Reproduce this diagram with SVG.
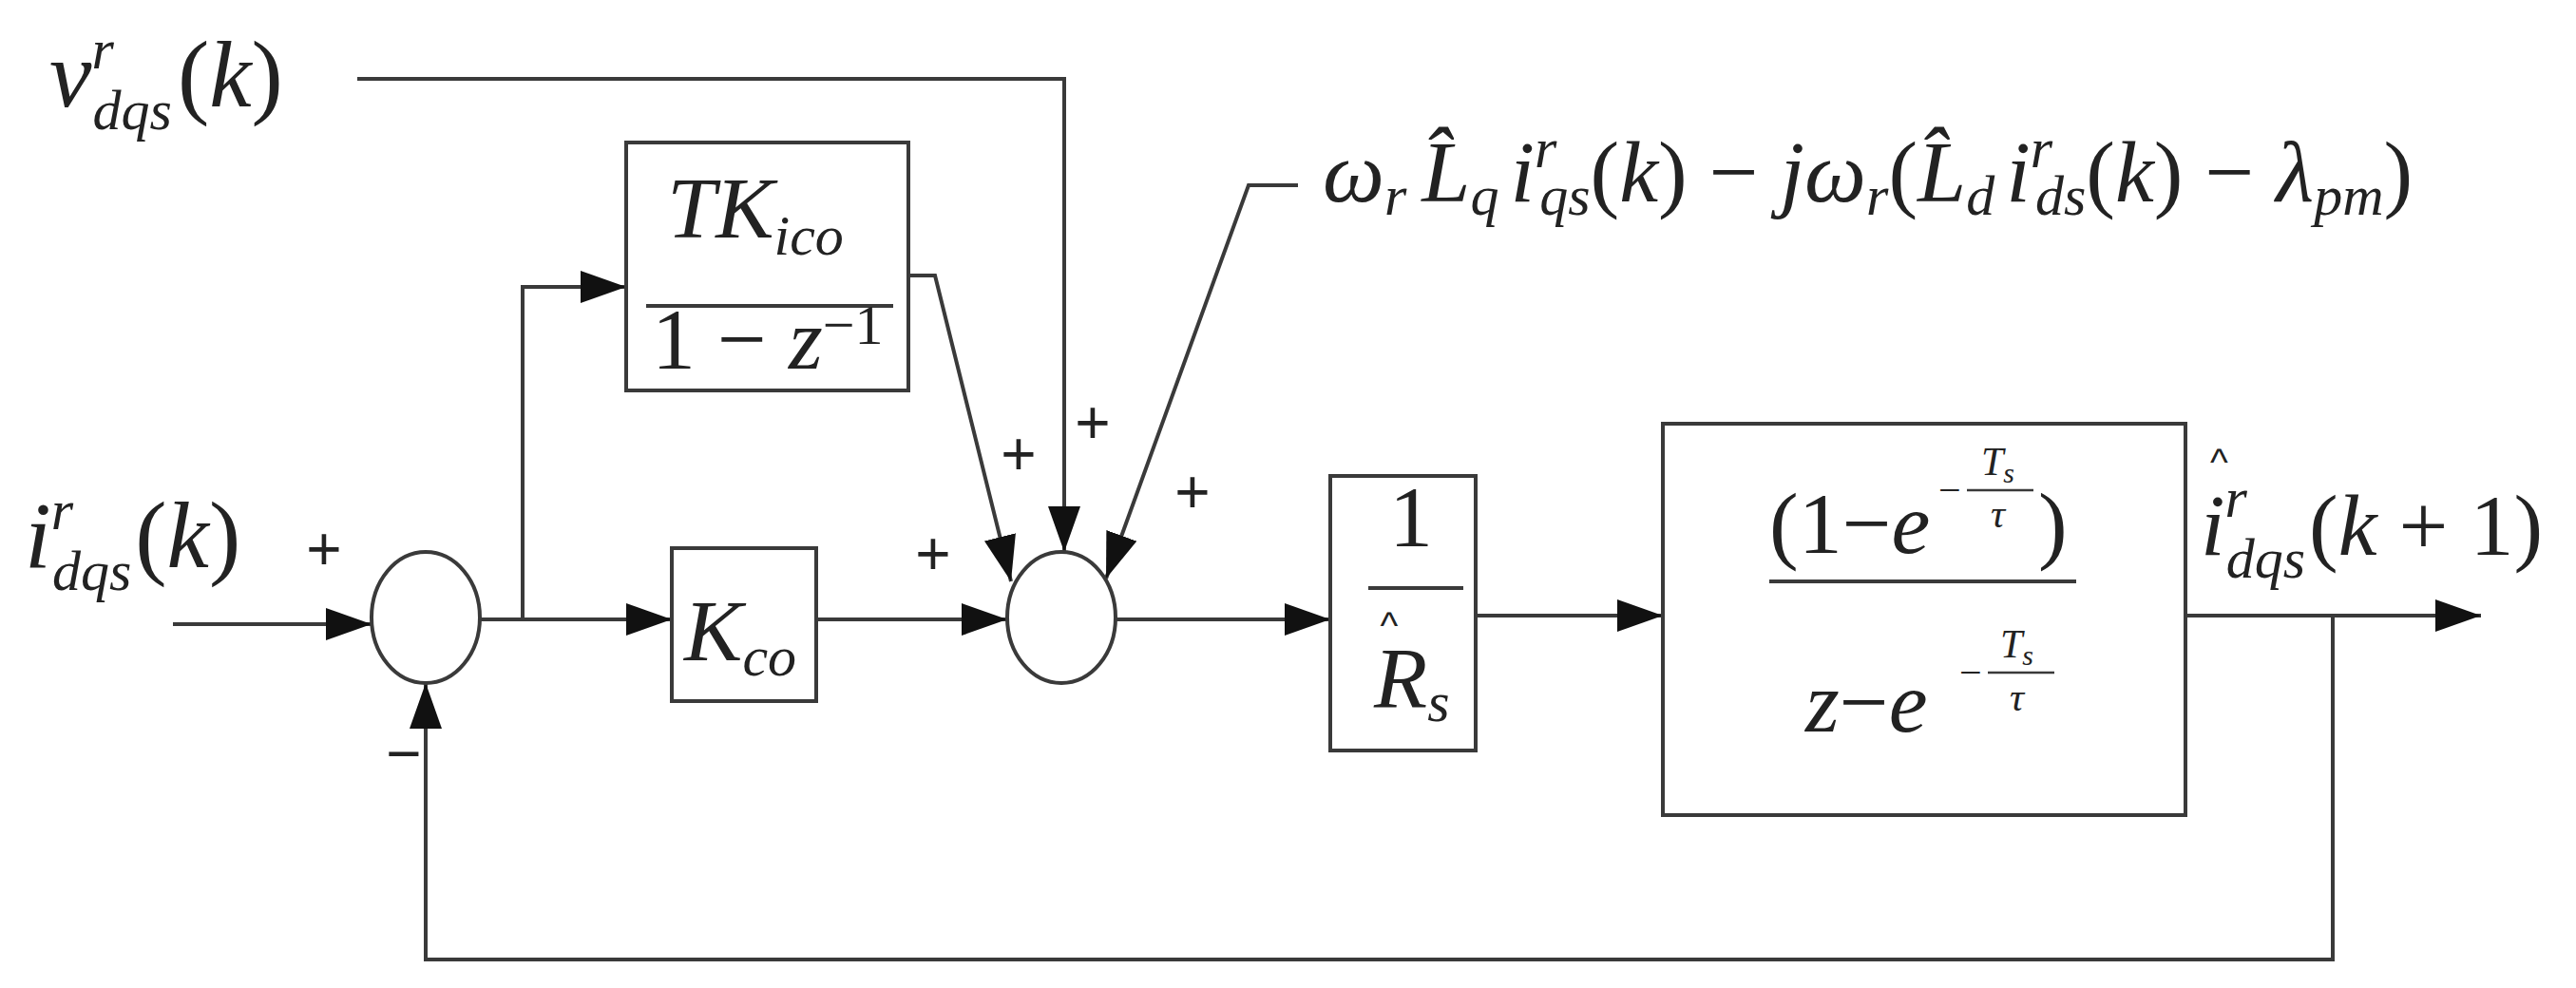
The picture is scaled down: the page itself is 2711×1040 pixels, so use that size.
<svg xmlns="http://www.w3.org/2000/svg" width="2711" height="1040" viewBox="0 0 2711 1040">
<style>
.ln{fill:none;stroke:#3a3a3a;stroke-width:4}
.bx{fill:#fff;stroke:#3a3a3a;stroke-width:4}
.t{font-family:"Liberation Serif","DejaVu Serif",serif;font-style:italic;fill:#222;font-size:92px}
.L{font-size:100px}
.u{font-style:normal}
.s{font-size:60px}
.e{font-size:42px}
.p{font-family:"Liberation Sans",sans-serif;fill:#222;font-size:64px}
.h{font-family:"Liberation Sans",sans-serif;fill:#222;font-size:40px}
</style>
<defs>
<marker id="a" markerUnits="userSpaceOnUse" markerWidth="48" markerHeight="34" refX="48" refY="17" orient="auto"><path d="M0,0 L48,17 L0,34 z" fill="#111"/></marker>
</defs>
<g id="connectors">
<path class="ln" d="M182,657 H391" marker-end="url(#a)"/>
<path class="ln" d="M505,652 H707" marker-end="url(#a)"/>
<path class="ln" d="M550,652 V302 H659" marker-end="url(#a)"/>
<path class="ln" d="M859,652 H1060" marker-end="url(#a)"/>
<path class="ln" d="M956,290 H984 L1064,612" marker-end="url(#a)"/>
<path class="ln" d="M376,83 H1120 V581" marker-end="url(#a)"/>
<path class="ln" d="M1366,195 H1314 L1164,609" marker-end="url(#a)"/>
<path class="ln" d="M1174,652 H1400" marker-end="url(#a)"/>
<path class="ln" d="M1553,648 H1750" marker-end="url(#a)"/>
<path class="ln" d="M2300,648 H2611" marker-end="url(#a)"/>
<path class="ln" d="M2455,648 V1010 H448 V719" marker-end="url(#a)"/>
</g>
<g id="sum1"><ellipse class="bx" cx="448" cy="650" rx="57" ry="69"/></g>
<g id="sum2"><ellipse class="bx" cx="1117" cy="650" rx="57" ry="69"/></g>
<g id="tk">
<rect class="bx" x="659" y="150" width="297" height="261"/>
<text class="t" x="702" y="250">TK<tspan class="s" dy="18">ico</tspan></text>
<line class="ln" x1="680" y1="322" x2="940" y2="322"/>
<text class="t" x="686" y="388"><tspan class="u">1 − </tspan>z<tspan class="s u" dy="-26">−1</tspan></text>
</g>
<g id="kco">
<rect class="bx" x="707" y="577" width="152" height="161"/>
<text class="t" x="720" y="695">K<tspan class="s" dy="16">co</tspan></text>
</g>
<g id="rs">
<rect class="bx" x="1400" y="501" width="153" height="289"/>
<text class="t u" x="1485" y="575" text-anchor="middle">1</text>
<line class="ln" x1="1440" y1="619" x2="1540" y2="619"/>
<text class="h" x="1462" y="672" text-anchor="middle">^</text>
<text class="t" x="1446" y="745">R<tspan class="s" dy="14">s</tspan></text>
</g>
<g id="plant">
<rect class="bx" x="1750" y="446" width="550" height="412" style="fill:none"/>
<text class="t" x="1862" y="582"><tspan class="u">(1−</tspan>e</text>
<text class="t e u" x="2040" y="530">−</text>
<text class="t e" x="2085" y="500">T<tspan font-size="30" dy="8">s</tspan></text>
<line class="ln" style="stroke-width:2.5" x1="2070" y1="516" x2="2140" y2="516"/>
<text class="t e" x="2095" y="555">τ</text>
<text class="t u" x="2145" y="582">)</text>
<line class="ln" x1="1862" y1="612" x2="2185" y2="612"/>
<text class="t" x="1900" y="770">z<tspan class="u">−</tspan>e</text>
<text class="t e u" x="2062" y="722">−</text>
<text class="t e" x="2105" y="692">T<tspan font-size="30" dy="8">s</tspan></text>
<line class="ln" style="stroke-width:2.5" x1="2092" y1="708" x2="2162" y2="708"/>
<text class="t e" x="2115" y="748">τ</text>
</g>
<g id="labels">
<text class="t L" x="52" y="112">v<tspan class="s" dy="-40">r</tspan><tspan class="s" dx="-20" dy="64">dqs</tspan><tspan class="u" dx="6" dy="-24">(</tspan>k<tspan class="u">)</tspan></text>
<text class="t L" x="26" y="597">i<tspan class="s" dy="-40">r</tspan><tspan class="s" dx="-20" dy="64">dqs</tspan><tspan class="u" dx="4" dy="-24">(</tspan>k<tspan class="u">)</tspan></text>
<text class="h" x="2326" y="500">^</text>
<text class="t" x="2316" y="584">i<tspan class="s" dy="-40">r</tspan><tspan class="s" dx="-20" dy="64">dqs</tspan><tspan class="u" dx="4" dy="-24">(</tspan>k<tspan class="u"> + 1)</tspan></text>
<text class="t" x="1392" y="212">ω<tspan class="s" dy="14">r</tspan><tspan dx="16" dy="-14">L̂</tspan><tspan class="s" dy="14">q</tspan><tspan dx="12" dy="-14">i</tspan><tspan class="s" dy="-36">r</tspan><tspan class="s" dx="-16" dy="50">qs</tspan><tspan class="u" dy="-14">(</tspan>k<tspan class="u">) − </tspan>jω<tspan class="s" dy="14">r</tspan><tspan class="u" dy="-14">(</tspan>L̂<tspan class="s" dy="14">d</tspan><tspan dx="12" dy="-14">i</tspan><tspan class="s" dy="-36">r</tspan><tspan class="s" dx="-16" dy="50">ds</tspan><tspan class="u" dy="-14">(</tspan>k<tspan class="u">) − </tspan>λ<tspan class="s" dy="14">pm</tspan><tspan class="u" dy="-14">)</tspan></text>
<text class="p" x="341" y="600" text-anchor="middle">+</text>
<text class="p" x="425" y="815" text-anchor="middle">−</text>
<text class="p" x="982" y="605" text-anchor="middle">+</text>
<text class="p" x="1072" y="500" text-anchor="middle">+</text>
<text class="p" x="1150" y="467" text-anchor="middle">+</text>
<text class="p" x="1255" y="540" text-anchor="middle">+</text>
</g>
</svg>
